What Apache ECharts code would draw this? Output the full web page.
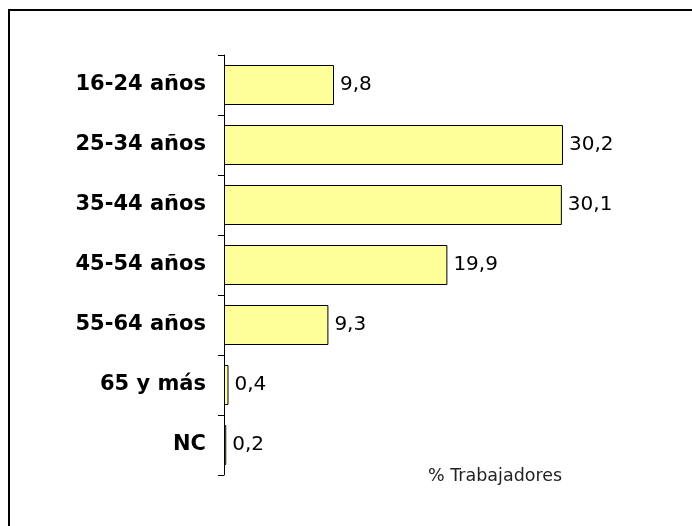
<!DOCTYPE html>
<html>
<head>
<meta charset="utf-8">
<script src="https://cdn.jsdelivr.net/npm/echarts@6/dist/echarts.min.js"></script>
<style>
body{margin:0;background:#fff;}
#main{width:692px;height:526px;}
</style>
</head>
<body>
<div id="main"></div>
<script>
var categorias = ['16-24 años','25-34 años','35-44 años','45-54 años','55-64 años','65 y más','NC'];
var trabajadores = [9.8, 30.2, 30.1, 19.9, 9.3, 0.4, 0.2];

var myChart = echarts.init(document.getElementById('main'));
var options = {
    backgroundColor: '#fff',
    animation: false,
    title: {
        text: '% Trabajadores',
        left: 428,
        top: 467,
        padding: 0,
        textStyle: {
            fontFamily: 'DejaVu Sans',
            fontSize: 17.5,
            fontWeight: 'normal',
            color: '#222'
        }
    },
    graphic: [
        {type: 'line', shape: {x1: 9, y1: 10, x2: 692, y2: 10}, style: {stroke: '#000', lineWidth: 2}},
        {type: 'line', shape: {x1: 9, y1: 9, x2: 9, y2: 526}, style: {stroke: '#000', lineWidth: 2}}
    ],
    grid: {
        left: 224,
        top: 55,
        width: 449,
        height: 420
    },
    xAxis: {
        type: 'value',
        min: 0,
        max: 40,
        show: false,
        splitLine: {show: false}
    },
    yAxis: {
        type: 'category',
        data: categorias,
        inverse: true,
        axisLine: {lineStyle: {color: '#000', width: 1}},
        axisTick: {show: true, length: 6, lineStyle: {color: '#000'}},
        axisLabel: {
            margin: 18,
            padding: [5, 0, 0, 0],
            fontFamily: 'DejaVu Sans',
            fontSize: 21,
            fontWeight: 'bold',
            color: '#000'
        }
    },
    series: [
        {
            type: 'bar',
            data: trabajadores,
            barWidth: 40,
            itemStyle: {
                color: '#ffff99',
                borderColor: '#000',
                borderWidth: 1
            },
            label: {
                show: true,
                position: 'right',
                distance: 6,
                padding: [4, 0, 0, 0],
                fontFamily: 'DejaVu Sans',
                fontSize: 20,
                color: '#000',
                formatter: function (p) {
                    return p.value.toFixed(1).replace('.', ',');
                }
            }
        }
    ]
};
myChart.setOption(options);
</script>
</body>
</html>
